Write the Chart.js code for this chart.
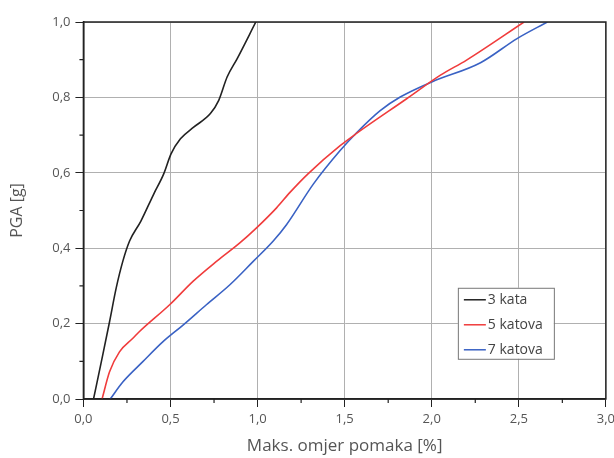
<!DOCTYPE html>
<html>
<head>
<meta charset="utf-8">
<script src="https://cdn.jsdelivr.net/npm/chart.js"></script>
<style>
  body { margin: 0; background: #fff; overflow: hidden; }
  canvas { display: block; }
</style>
</head>
<body>
<canvas id="graf" width="619" height="458"></canvas>
<script>
// podaci ocitani s grafa
const serije = ['3 kata', '5 katova', '7 katova'];
const boje = ['#222222', '#f03c3c', '#3a62c4'];

const kata3_x = [0.058, 0.111, 0.15, 0.188, 0.226, 0.265, 0.33, 0.403, 0.461, 0.503, 0.557, 0.633, 0.729, 0.777, 0.825, 0.883, 0.99];
const kata3_y = [0.0, 0.117, 0.205, 0.294, 0.365, 0.419, 0.472, 0.543, 0.597, 0.65, 0.69, 0.721, 0.757, 0.792, 0.854, 0.903, 1.0];

const katova5_x = [0.107, 0.15, 0.207, 0.284, 0.322, 0.495, 0.629, 0.764, 0.898, 0.994, 1.109, 1.186, 1.291, 1.474, 1.57, 1.858, 2.05, 2.2, 2.53];
const katova5_y = [0.0, 0.072, 0.125, 0.161, 0.179, 0.25, 0.312, 0.365, 0.414, 0.454, 0.507, 0.548, 0.598, 0.672, 0.705, 0.797, 0.859, 0.899, 1.0];

const katova7_x = [0.154, 0.226, 0.341, 0.457, 0.572, 0.706, 0.841, 0.975, 1.09, 1.167, 1.32, 1.474, 1.57, 1.704, 1.819, 2.0, 2.28, 2.49, 2.664];
const katova7_y = [0.0, 0.045, 0.099, 0.152, 0.196, 0.25, 0.303, 0.365, 0.419, 0.463, 0.57, 0.659, 0.707, 0.765, 0.801, 0.841, 0.892, 0.956, 1.0];

const xTicks = [0, 0.5, 1.0, 1.5, 2.0, 2.5, 3.0];
const yTicks = [0, 0.2, 0.4, 0.6, 0.8, 1.0];

function tocke(xs, ys) {
    return xs.map((x, i) => ({ x: x, y: ys[i] }));
}

function zarez(v) {
    return v.toFixed(1).replace('.', ',');
}

// okvir, sitne crtice i legenda unutar grafa
const okvirPlugin = {
    id: 'okvir',
    afterDraw(chart) {
        const ctx = chart.ctx;
        const a = chart.chartArea;
        const sx = chart.scales.x;
        const sy = chart.scales.y;
        ctx.save();
        ctx.strokeStyle = '#222';
        ctx.lineWidth = 1.5;
        ctx.strokeRect(a.left, a.top, a.right - a.left, a.bottom - a.top);

        ctx.lineWidth = 1.2;
        ctx.beginPath();
        for (let i = 0; i < xTicks.length - 1; i++) {
            const px = sx.getPixelForValue((xTicks[i] + xTicks[i + 1]) / 2);
            ctx.moveTo(px, a.bottom);
            ctx.lineTo(px, a.bottom + 4);
        }
        for (let i = 0; i < yTicks.length - 1; i++) {
            const py = sy.getPixelForValue((yTicks[i] + yTicks[i + 1]) / 2);
            ctx.moveTo(a.left, py);
            ctx.lineTo(a.left - 4, py);
        }
        ctx.stroke();

        // legenda
        const lx = sx.getPixelForValue(2.15);
        const ly = sy.getPixelForValue(0.295);
        const w = 96, h = 71;
        ctx.fillStyle = '#fff';
        ctx.fillRect(lx, ly, w, h);
        ctx.strokeStyle = '#777';
        ctx.lineWidth = 1;
        ctx.strokeRect(lx + 0.5, ly + 0.5, w, h);
        ctx.font = '14px "Open Sans", sans-serif';
        ctx.textBaseline = 'middle';
        chart.data.datasets.forEach((ds, i) => {
            const yy = ly + 12 + i * 25;
            ctx.strokeStyle = ds.borderColor;
            ctx.lineWidth = 1.5;
            ctx.beginPath();
            ctx.moveTo(lx + 6, yy);
            ctx.lineTo(lx + 28, yy);
            ctx.stroke();
            ctx.fillStyle = '#444';
            ctx.fillText(ds.label, lx + 30, yy);
        });
        ctx.restore();
    }
};

new Chart(document.getElementById('graf').getContext('2d'), {
    type: 'line',
    data: {
        datasets: [
            { label: serije[0], data: tocke(kata3_x, kata3_y), borderColor: boje[0] },
            { label: serije[1], data: tocke(katova5_x, katova5_y), borderColor: boje[1] },
            { label: serije[2], data: tocke(katova7_x, katova7_y), borderColor: boje[2] }
        ]
    },
    options: {
        responsive: false,
        animation: false,
        layout: { padding: { top: 22, right: 0, left: 8, bottom: 2 } },
        elements: {
            line: { borderWidth: 1.6, cubicInterpolationMode: 'monotone', fill: false },
            point: { radius: 0 }
        },
        plugins: {
            legend: { display: false },
            tooltip: { enabled: false }
        },
        scales: {
            x: {
                type: 'linear',
                min: 0,
                max: 3,
                afterBuildTicks: s => { s.ticks = xTicks.map(v => ({ value: v })); },
                ticks: {
                    callback: v => zarez(v),
                    color: '#555',
                    font: { size: 13, family: '"Open Sans", sans-serif' },
                    padding: 4,
                    maxRotation: 0
                },
                grid: { color: '#b0b0b0', tickColor: '#222', tickLength: 8, lineWidth: 1 },
                border: { color: '#222', width: 1.5 },
                title: {
                    display: true,
                    text: 'Maks. omjer pomaka [%]',
                    color: '#555',
                    font: { size: 17, family: '"Open Sans", sans-serif' },
                    padding: { top: 5, bottom: 0 }
                }
            },
            y: {
                type: 'linear',
                min: 0,
                max: 1,
                afterBuildTicks: s => { s.ticks = yTicks.map(v => ({ value: v })); },
                ticks: {
                    callback: v => zarez(v),
                    color: '#555',
                    font: { size: 13, family: '"Open Sans", sans-serif' },
                    padding: 5
                },
                grid: { color: '#b0b0b0', tickColor: '#222', tickLength: 8, lineWidth: 1 },
                border: { color: '#222', width: 1.5 },
                title: {
                    display: true,
                    text: 'PGA [g]',
                    color: '#555',
                    font: { size: 16, family: '"Open Sans", sans-serif' },
                    padding: { top: 0, bottom: 20 }
                }
            }
        }
    },
    plugins: [okvirPlugin]
});
</script>
</body>
</html>
